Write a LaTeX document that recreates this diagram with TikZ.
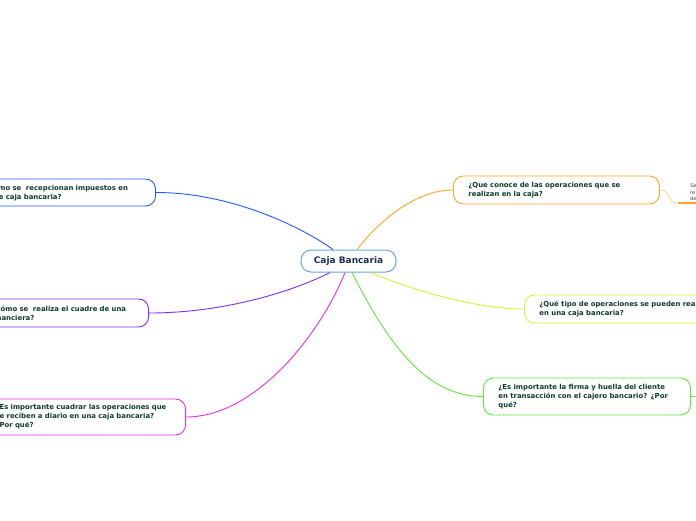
\documentclass[tikz,border=0pt]{standalone}
\usepackage{fontspec}
\setmainfont{DejaVu Sans}
\definecolor{txtdark}{HTML}{0E3B2A}
\definecolor{cajatext}{HTML}{1C2D5C}
\definecolor{cajaline}{HTML}{6AA6DA}
\definecolor{linkblue}{HTML}{1F5BFF}
\definecolor{linkviolet}{HTML}{7A2EFF}
\definecolor{linkmagenta}{HTML}{E62EE6}
\definecolor{linkorange}{HTML}{FFA526}
\definecolor{linkyellow}{HTML}{D6F23A}
\definecolor{linkgreen}{HTML}{5EE83A}
\begin{document}
\begin{tikzpicture}[x=1pt, y=-1pt,
  every node/.style={font=\bfseries\fontsize{6.9}{9}\selectfont, text=txtdark},
  topic/.style={draw, fill=white, rounded corners=10pt, line width=0.9pt, align=left, inner xsep=15pt, inner ysep=0pt, minimum height=28pt},
  link/.style={line width=0.9pt}]
  \useasboundingbox (0,0) rectangle (696,520);
  \clip (0,0) rectangle (696,520);
  \node[draw=cajaline, fill=white, rounded corners=10pt, line width=1pt, minimum width=95pt, minimum height=22pt, font=\bfseries\fontsize{9}{11}\selectfont, text=cajatext] (caja) at (348.5,261) {Caja Bancaria};
  % left side
  \node[topic, draw=linkblue, anchor=east, text width=156pt, minimum height=27pt] (impuestos) at (156,192.5) {¿Cómo se\ \ recepcionan impuestos en\\la de caja bancaria?};
  \node[topic, draw=linkviolet, anchor=east, text width=142pt] (cuadre) at (149,313) {¿Cómo se\ \ realiza el cuadre de una\\financiera?};
  \node[topic, draw=linkmagenta, anchor=east, text width=175pt, minimum height=36pt] (diario) at (186,417) {¿Es importante cuadrar las operaciones que\\se reciben a diario en una caja bancaria?\\¿Por qué?};
  % right side
  \node[topic, draw=linkorange, anchor=west, text width=176pt] (operaciones) at (453,190) {¿Que conoce de las operaciones que se\\realizan en la caja?};
  \node[topic, draw=linkyellow, anchor=west, text width=210pt] (tipos) at (524,309) {¿Qué tipo de operaciones se pueden realizar\\en una caja bancaria?};
  \node[topic, draw=linkgreen, anchor=west, text width=177pt, minimum height=37pt] (firma) at (483,396.5) {¿Es importante la firma y huella del cliente\\en transacción con el cajero bancario? ¿Por\\qué?};
  \node[anchor=south west, align=left, inner xsep=12pt, inner ysep=2pt, text width=30pt, text=black!75, font=\fontsize{5}{6.5}\selectfont] (respuesta) at (678,203) {Se\\re\\de};
  \coordinate (firma-sub) at (720,396);
  % connectors
  \draw[link, linkblue] ([xshift=-15.5pt]caja.north) .. controls (300,226) and (230,192.5) .. (impuestos.east);
  \draw[link, linkviolet] ([xshift=-18.5pt]caja.south) .. controls (300,288) and (230,313) .. (cuadre.east);
  \draw[link, linkmagenta] ([xshift=-3.5pt]caja.south) .. controls (320,335) and (255,417) .. (diario.east);
  \draw[link, linkorange] ([xshift=8.5pt]caja.north) .. controls (385,214) and (420,190) .. (operaciones.west);
  \draw[link, linkyellow] ([xshift=21.5pt]caja.south) .. controls (420,293) and (480,309) .. (tipos.west);
  \draw[link, linkgreen] ([xshift=3.5pt]caja.south) .. controls (392,352) and (430,396.5) .. (firma.west);
  \draw[line width=0.6pt, linkorange!60] (operaciones.east) .. controls (672,190) and (666,203) .. (respuesta.south west);
  \draw[line width=1.8pt, linkorange] (respuesta.south west) -- (respuesta.south east);
  \draw[line width=0.6pt, linkgreen] (firma.east) -- (firma-sub);
\end{tikzpicture}
\end{document}
